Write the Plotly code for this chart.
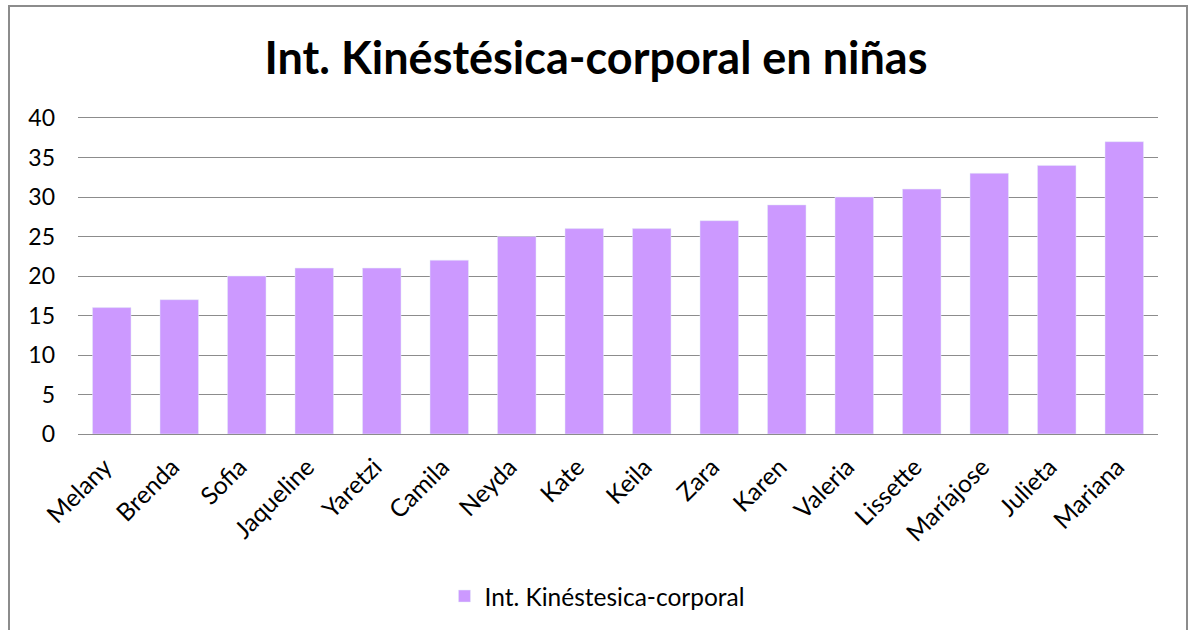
import plotly.graph_objects as go

nombres = ['Melany', 'Brenda', 'Sofia', 'Jaqueline', 'Yaretzi', 'Camila', 'Neyda', 'Kate',
           'Keila', 'Zara', 'Karen', 'Valeria', 'Lissette', 'Maríajose', 'Julieta', 'Mariana']
puntajes = [16, 17, 20, 21, 21, 22, 25, 26, 26, 27, 29, 30, 31, 33, 34, 37]
serie = 'Int. Kinéstesica-corporal'
titulo = 'Int. Kinéstésica-corporal en niñas'

font_family = 'Lato, "Open Sans", sans-serif'

fig = go.Figure()
fig.add_bar(x=nombres, y=puntajes, name=serie, marker_color='#CC99FF',
            showlegend=True)

fig.update_layout(
    width=1192, height=630,
    margin=dict(l=78, r=34, t=118, b=196),
    paper_bgcolor='white', plot_bgcolor='white',
    font=dict(family=font_family, size=23, color='black'),
    title=dict(text='<b>' + titulo + '</b>', x=0.5, xanchor='center',
               y=1 - 58 / 630, yanchor='middle',
               font=dict(size=45, family=font_family, color='black')),
    bargap=0.43,
    showlegend=True,
    legend=dict(orientation='h', x=0.481, xanchor='center', y=-0.513, yanchor='middle',
                font=dict(size=24.5)),
)
fig.update_yaxes(range=[0, 40], dtick=5, showgrid=True, gridcolor='#8c8c8c', gridwidth=1,
                 zeroline=False, ticks='', ticklabelstandoff=22, automargin=False,
                 tickfont=dict(size=23))
fig.update_xaxes(tickangle=-45, showline=True, mirror=True, linecolor='#8c8c8c', linewidth=1,
                 ticks='', automargin=False, ticklabelstandoff=8, ticklabelshift=-7,
                 tickfont=dict(size=24.5))

# chart border
fig.add_shape(type='rect', xref='paper', yref='paper',
              x0=(9 - 78) / 1080, x1=(1187 - 78) / 1080,
              y0=(434 - 640) / 316, y1=(434 - 6) / 316,
              line=dict(color='#8c8c8c', width=2), fillcolor='rgba(0,0,0,0)')

# remove the default page margin so the figure sits at the window corner
fig.write_html('out.html', config={'displayModeBar': False},
               post_script="document.body.style.margin='0';")
